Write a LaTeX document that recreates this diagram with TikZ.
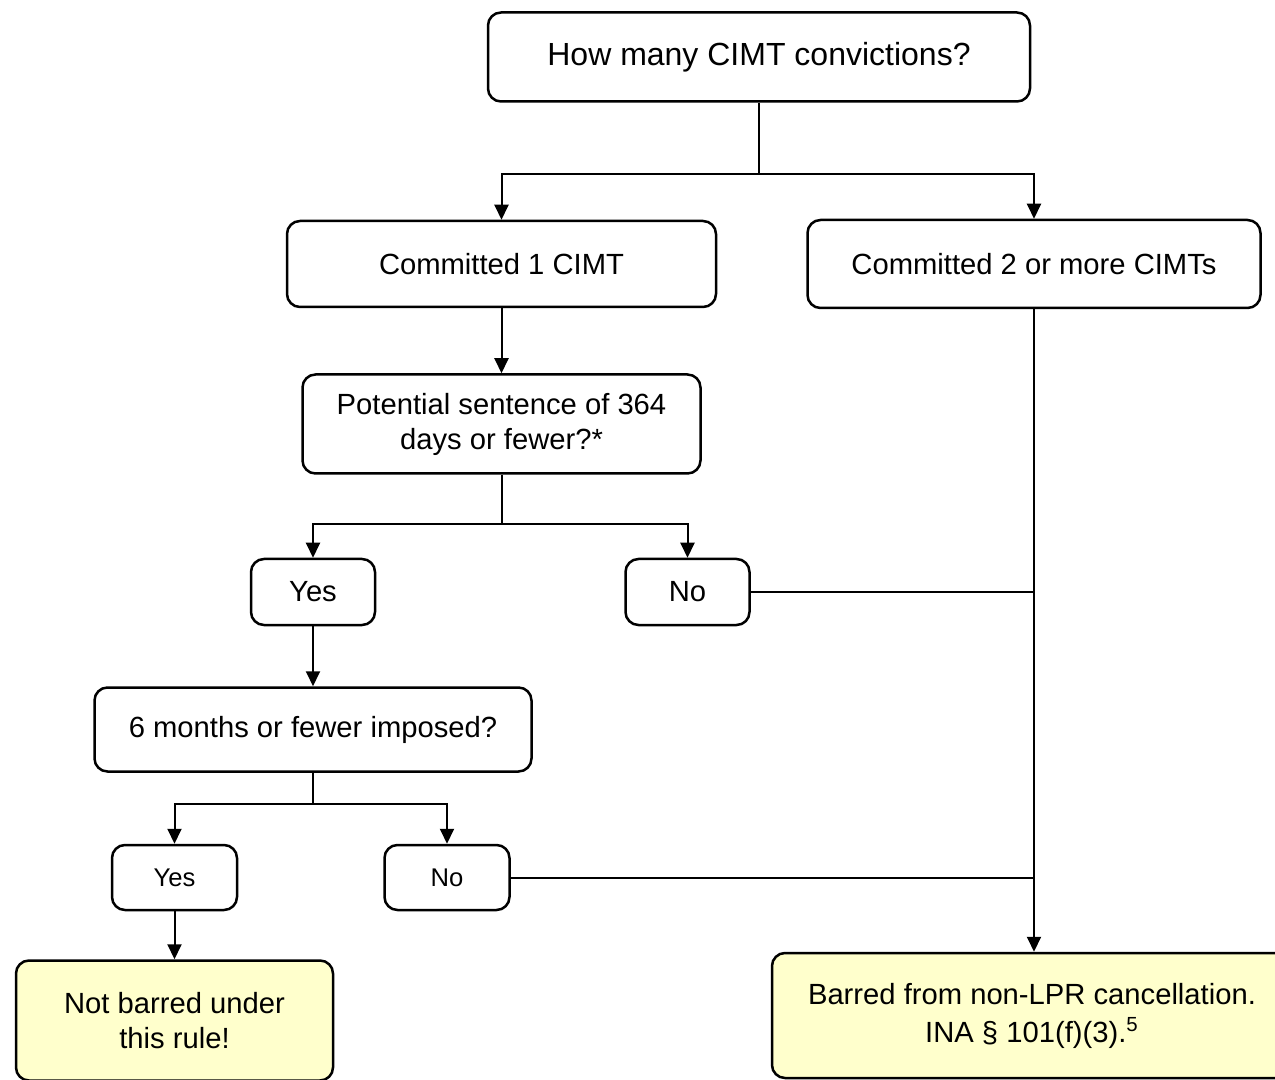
\documentclass[tikz,border=0pt]{standalone}
\usepackage{fontspec}
\setmainfont{Liberation Sans}
\usepackage{xcolor}
\usepackage{tikz}
\usetikzlibrary{shapes,arrows,positioning,calc,arrows.meta}
\definecolor{endfill}{RGB}{255,255,204}

\begin{document}
\begin{tikzpicture}[auto,
    cimt block/.style={rectangle, draw, line width=1.25pt, rounded corners=6.5pt, align=center,
        font=\fontsize{14.6}{17.5}\selectfont, inner sep=0pt},
    small block/.style={cimt block, font=\fontsize{12.8}{15}\selectfont},
    end block/.style={cimt block, fill=endfill},
    cimt arrow/.style={-{Triangle[length=7.5pt,width=7pt]}, line width=1pt},
    cimt line/.style={line width=1pt}]

    \useasboundingbox (0,0) rectangle (637.5pt,-540pt);

    \node [cimt block, minimum width=271pt, minimum height=44.5pt, font=\fontsize{16}{19}\selectfont]
        (count) at (379.5pt,-28.5pt) {How many CIMT convictions?};
    \node [cimt block, minimum width=214.5pt, minimum height=43pt] (one) at (250.75pt,-132pt) {Committed 1 CIMT};
    \node [cimt block, right=44.5pt of one, minimum width=226.5pt, minimum height=44pt] (two) {Committed 2 or more CIMTs};
    \node [cimt block, below=32.5pt of one, minimum width=199pt, minimum height=49.5pt] (potential)
        {Potential sentence of 364\\days or fewer?*};

    \node [cimt block, minimum width=62pt, minimum height=33pt] (yesA) at (156.5pt,-296pt) {Yes};
    \node [cimt block, right=124pt of yesA, minimum width=62pt, minimum height=33pt] (noA) {No};
    \node [cimt block, below=30pt of yesA, minimum width=218.5pt, minimum height=42pt] (imposed)
        {6 months or fewer imposed?};

    \node [small block, minimum width=62.5pt, minimum height=32.5pt] (yesB) at (87.25pt,-438.75pt) {Yes};
    \node [small block, right=72.5pt of yesB, minimum width=62.5pt, minimum height=32.5pt] (noB) {No};

    \node [end block, below=24pt of yesB, minimum width=158.5pt, minimum height=60pt] (notbarred)
        {Not barred under\\this rule!};
    \node [end block, minimum width=260pt, minimum height=62.5pt, font=\fontsize{14.6}{19}\selectfont]
        (barred) at (516pt,-507.75pt)
        {Barred from non-LPR cancellation.\\INA \S\ 101(f)(3).\textsuperscript{5}};

    % splits
    \coordinate (splitA) at ($(count.south)+(0,-35.5pt)$);
    \coordinate (splitB) at ($(potential.south)+(0,-24.5pt)$);
    \coordinate (splitC) at ($(imposed.south)+(0,-15.5pt)$);

    \draw [cimt line] (count.south) -- (splitA);
    \draw [cimt arrow] (splitA) -| (one.north);
    \draw [cimt arrow] (splitA) -| (two.north);
    \draw [cimt arrow] (one) -- (potential);

    \draw [cimt line] (potential.south) -- (splitB);
    \draw [cimt arrow] (splitB) -| (yesA.north);
    \draw [cimt arrow] (splitB) -| (noA.north);
    \draw [cimt arrow] (yesA) -- (imposed);

    \draw [cimt line] (imposed.south) -- (splitC);
    \draw [cimt arrow] (splitC) -| (yesB.north);
    \draw [cimt arrow] (splitC) -| (noB.north);
    \draw [cimt arrow] (yesB) -- (notbarred);

    \draw [cimt arrow] (two.south) -- (two.south |- barred.north);
    \draw [cimt line] (noA.east) -- (noA.east -| two.south);
    \draw [cimt line] (noB.east) -- (noB.east -| two.south);

\end{tikzpicture}
\end{document}
